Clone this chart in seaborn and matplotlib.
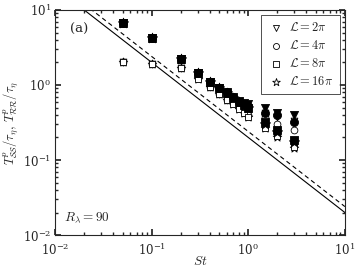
import numpy as np
import pandas as pd
import matplotlib
matplotlib.use("Agg")
import matplotlib.pyplot as plt
import seaborn as sns

# Stokes numbers
st = [0.05, 0.1, 0.2, 0.3, 0.4, 0.5, 0.6, 0.7, 0.8, 0.9, 1.0, 1.5, 2.0, 3.0]

# filled symbols: T_SS / tau_eta ; open symbols: T_RR / tau_eta
ss_2pi  = [6.7, 4.2, 2.2, 1.45, 1.09, 0.90, 0.80, 0.69, 0.62, 0.58, 0.56, 0.49, 0.43, 0.40]
ss_4pi  = [6.7, 4.2, 2.2, 1.45, 1.09, 0.90, 0.80, 0.69, 0.60, 0.56, 0.53, 0.43, 0.40, 0.32]
ss_8pi  = [6.7, 4.2, 2.2, 1.45, 1.09, 0.90, 0.79, 0.68, 0.59, 0.54, 0.50, 0.32, 0.25, 0.185]
ss_16pi = [6.7, 4.2, 2.2, 1.45, 1.09, 0.90, 0.79, 0.68, 0.59, 0.54, 0.50, 0.30, 0.24, 0.175]

rr_2pi  = [2.05, 1.92, 1.70, 1.25, 0.97, 0.77, 0.65, 0.58, 0.50, 0.45, 0.42, 0.42, 0.38, 0.33]
rr_4pi  = [2.05, 1.92, 1.70, 1.23, 0.95, 0.77, 0.64, 0.57, 0.49, 0.44, 0.40, 0.37, 0.30, 0.25]
rr_8pi  = [2.0, 1.88, 1.66, 1.20, 0.93, 0.75, 0.63, 0.56, 0.48, 0.43, 0.38, 0.27, 0.21, 0.15]
rr_16pi = [2.0, 1.88, 1.66, 1.20, 0.93, 0.75, 0.63, 0.56, 0.48, 0.43, 0.38, 0.265, 0.20, 0.143]

labels = [r"$\mathcal{L}=2\pi$", r"$\mathcal{L}=4\pi$", r"$\mathcal{L}=8\pi$", r"$\mathcal{L}=16\pi$"]
markers = ["v", "o", "s", "*"]

# reference lines ~ c/St
st_line = [0.01, 10.0]
c_solid = 0.2
c_dash = 0.24

sns.set_theme(style="ticks")
plt.rcParams["font.family"] = ["DejaVu Serif"]
plt.rcParams["mathtext.fontset"] = "cm"

fig = plt.figure(figsize=(3.6, 2.69), dpi=100)
ax = fig.add_axes([0.153, 0.126, 0.805, 0.837])

ss_all = [ss_2pi, ss_4pi, ss_8pi, ss_16pi]
rr_all = [rr_2pi, rr_4pi, rr_8pi, rr_16pi]
sizes = [34, 34, 34, 60]
# drawing order: stars first, squares last (squares sit on top in the reference)
order = [3, 0, 1, 2]

for i in order:
    df = pd.DataFrame({"St": st, "T": rr_all[i]})
    sns.scatterplot(data=df, x="St", y="T", ax=ax, marker=markers[i], s=sizes[i] * 0.7,
                    facecolor="white", edgecolor="black", linewidth=0.6, zorder=3)
for i in order:
    df = pd.DataFrame({"St": st, "T": ss_all[i]})
    sns.scatterplot(data=df, x="St", y="T", ax=ax, marker=markers[i], s=sizes[i],
                    color="black", edgecolor="black", linewidth=0.6, zorder=4)

xl = np.array(st_line)
sns.lineplot(x=xl, y=c_solid / xl, ax=ax, color="black", linewidth=0.8, zorder=2)
sns.lineplot(x=xl, y=c_dash / xl, ax=ax, color="black", linewidth=0.8, linestyle=(0, (4, 3)), zorder=2)

# legend handles (open symbols)
for i in range(4):
    ax.scatter([], [], marker=markers[i], s=sizes[i] * 0.55, facecolor="white",
               edgecolor="black", linewidth=0.6, label=labels[i])

ax.set_xscale("log")
ax.set_yscale("log")
ax.set_xlim(1e-2, 1e1)
ax.set_ylim(1e-2, 1e1)
ax.tick_params(which="both", direction="in", top=True, right=True, labelsize=8.5, pad=3)
ax.tick_params(axis="x", which="major", pad=5)
ax.tick_params(which="major", length=4)
ax.tick_params(which="minor", length=2)
for sp in ax.spines.values():
    sp.set_linewidth(0.8)

ax.set_xlabel(r"$St$", fontsize=9.5)
ax.set_ylabel(r"$T^p_{\mathcal{SS}}/\tau_\eta,\,T^p_{\mathcal{RR}}/\tau_\eta$", fontsize=9)
ax.xaxis.set_label_coords(0.5, -0.09)
ax.yaxis.set_label_coords(-0.12, 0.5)
ax.text(0.05, 0.9, "(a)", transform=ax.transAxes, fontsize=9.5, family="DejaVu Serif")
ax.text(0.03, 0.06, r"$R_\lambda=90$", transform=ax.transAxes, fontsize=9.5)

leg = ax.legend(loc="upper right", fontsize=9, frameon=True, fancybox=False,
                edgecolor="black", handletextpad=0.4, borderpad=0.5, labelspacing=0.4,
                handlelength=1.4, borderaxespad=0.4)
leg.get_frame().set_linewidth(0.6)

fig.savefig("out.png", dpi=100)
